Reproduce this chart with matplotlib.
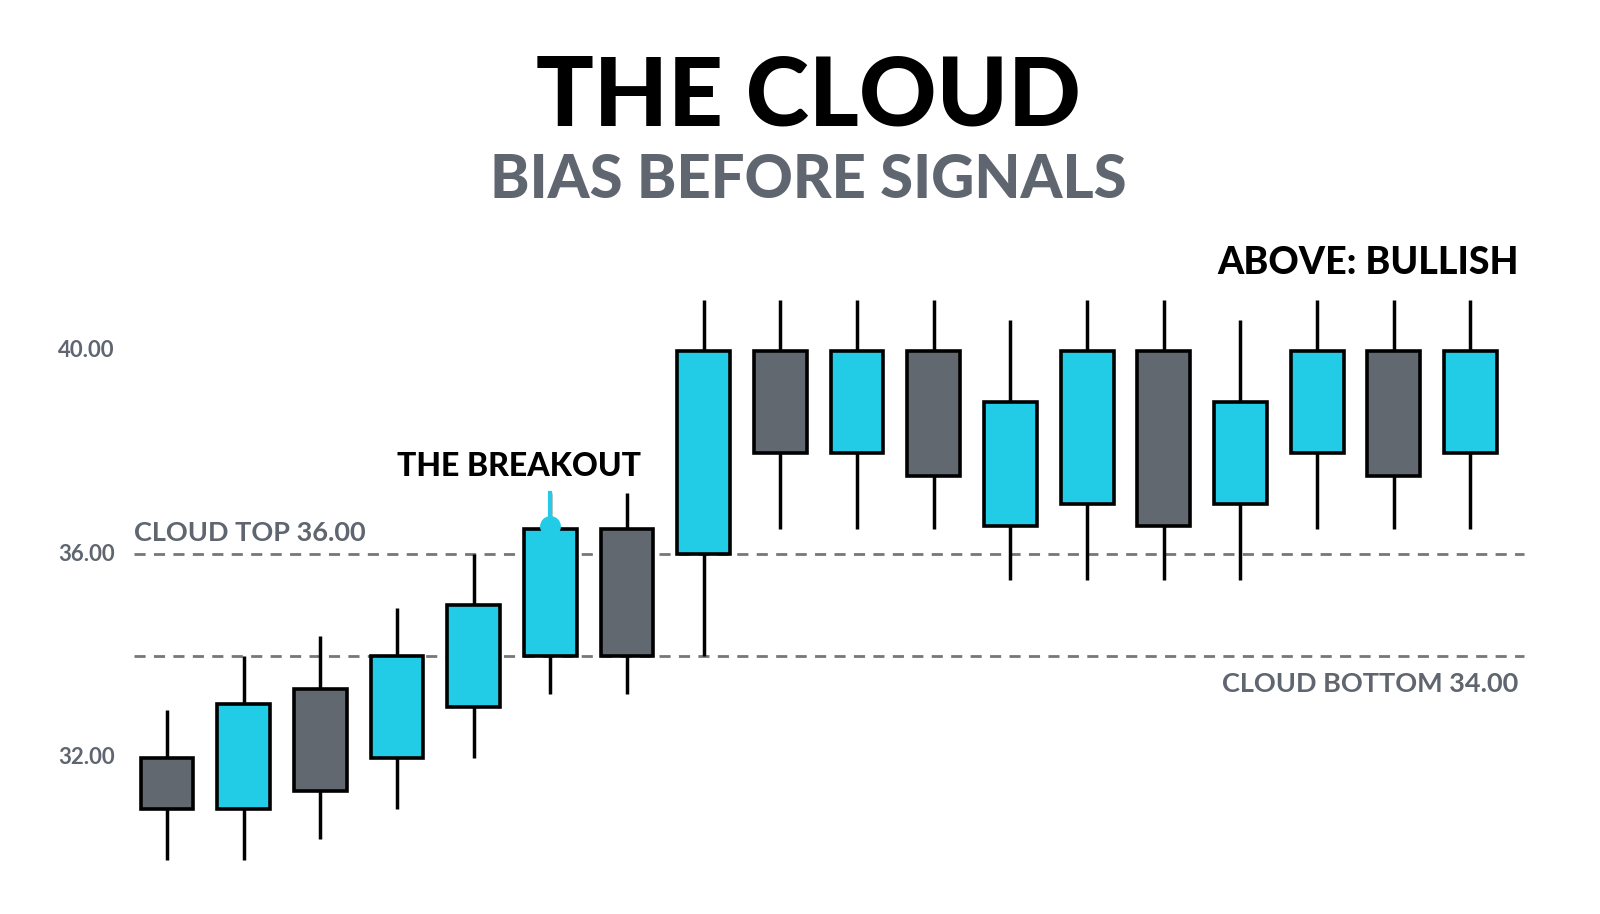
import matplotlib
matplotlib.use('Agg')
import matplotlib.pyplot as plt
from matplotlib.patches import Rectangle

# candle data
opens  = [32.0, 31.0, 33.35, 32.0, 33.0, 34.0, 36.5, 36.0, 40.0, 38.0, 40.0, 36.55, 37.0, 40.0, 37.0, 38.0, 40.0, 38.0]
closes = [31.0, 33.05, 31.35, 34.0, 35.0, 36.5, 34.0, 40.0, 38.0, 40.0, 37.55, 39.0, 40.0, 36.55, 39.0, 40.0, 37.55, 40.0]
highs  = [32.95, 34.0, 34.4, 34.95, 36.0, 37.2, 37.2, 41.0, 41.0, 41.0, 41.0, 40.6, 41.0, 41.0, 40.6, 41.0, 41.0, 41.0]
lows   = [30.0, 30.0, 30.4, 31.0, 32.0, 33.25, 33.25, 34.0, 36.5, 36.5, 36.5, 35.5, 35.5, 35.5, 35.5, 36.5, 36.5, 36.5]
cloud_top = 36.0
cloud_bottom = 34.0
yticks = [32.0, 36.0, 40.0]

cyan = '#22cbe6'
grey = '#626870'
txt_grey = '#5f6670'

fig = plt.figure(figsize=(16, 9.14), dpi=100)
ax = fig.add_axes([0, 0, 1, 1])
ax.set_xlim(-2.178, 18.69)
ax.set_ylim(28.93, 46.9)
ax.axis('off')

# cloud lines
for lvl in (cloud_top, cloud_bottom):
    ax.plot([-0.43, 17.7], [lvl, lvl], ls=(0, (4, 3)), color='#777777', lw=2, zorder=1)

w = 0.69
for i in range(len(opens)):
    o, c = opens[i], closes[i]
    col = cyan if c > o else grey
    ax.plot([i, i], [lows[i], highs[i]], color='black', lw=2.5, zorder=2, solid_capstyle='butt')
    ax.add_patch(Rectangle((i - w / 2, min(o, c)), w, abs(c - o), facecolor=col,
                           edgecolor='black', lw=2.6, zorder=3))

# breakout marker
ax.plot([5, 5], [36.5, 37.2], color=cyan, lw=3, zorder=4)
ax.plot(5, 36.55, 'o', color=cyan, ms=14, zorder=5)

for t in yticks:
    ax.text(-1.05, t, '%.2f' % t, color=txt_grey, fontsize=16, va='center', ha='center',
            family='Lato', weight='bold')

ax.text(-0.43, 36.42, 'CLOUD TOP 36.00', color=txt_grey, fontsize=19.5, va='center', ha='left',
        family='Lato', weight='bold')
ax.text(17.63, 33.45, 'CLOUD BOTTOM 34.00', color=txt_grey, fontsize=19.5, va='center', ha='right',
        family='Lato', weight='bold')
ax.text(17.63, 41.72, 'ABOVE: BULLISH', color='black', fontsize=27, va='center', ha='right',
        family='Lato', weight='black')
ax.text(4.59, 37.72, 'THE BREAKOUT', color='black', fontsize=23, va='center', ha='center',
        family='Lato', weight='black')

fig.text(0.505, 0.893, 'THE CLOUD', color='black', fontsize=69, va='center', ha='center',
         family='Lato', weight='black')
fig.text(0.505, 0.803, 'BIAS BEFORE SIGNALS', color=txt_grey, fontsize=43, va='center', ha='center',
         family='Lato', weight='black')

fig.savefig('out.png', facecolor='white')
